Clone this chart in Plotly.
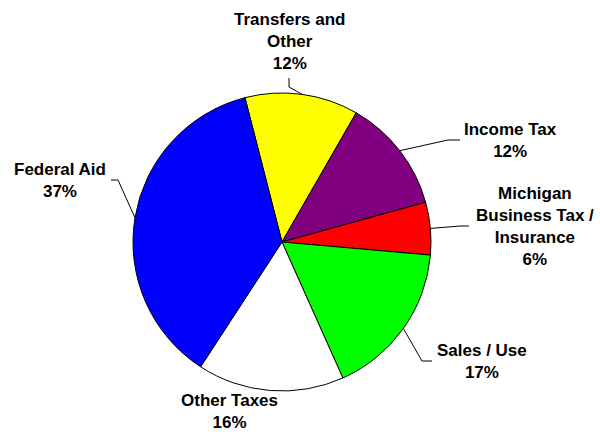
import math
import plotly.graph_objects as go

# ---- data ----
labels = ["Transfers and<br>Other", "Income Tax", "Michigan<br>Business Tax /<br>Insurance",
          "Sales / Use", "Other Taxes", "Federal Aid"]
values = [12.3, 12.4, 5.7, 16.9, 15.9, 36.8]
colors = ["#FFFF00", "#800080", "#FF0000", "#00FF00", "#FFFFFF", "#0000FF"]

W, H = 600, 432
CX, CY, R = 282, 242, 149
ROT = -14.4

# label placement (pixel coords: text centre, elbow point, end point)
label_pos = [(290, 41), (510, 140), (535, 226), (482, 361), (229, 411), (60, 180)]
elbows = [(289, 87), (448, 140), (460, 226), (422, 361), None, (118, 180)]
ends = [(289, 78), (460, 140), (469, 226), (432, 361), None, (111, 180)]

fig = go.Figure()
fig.add_trace(go.Pie(
    labels=labels, values=values, sort=False, direction="clockwise", rotation=ROT,
    marker=dict(colors=colors, line=dict(color="black", width=1)),
    textinfo="none", hoverinfo="label+percent", showlegend=False,
    domain=dict(x=[(CX - R) / W, (CX + R) / W], y=[(H - CY - R) / H, (H - CY + R) / H]),
))

total = sum(values)
cum = 0
font = dict(family="Arial, Liberation Sans, sans-serif", size=17, color="black", weight="bold")
for i, (lab, v) in enumerate(zip(labels, values)):
    mid = ROT + (cum + v / 2) / total * 360
    cum += v
    pct = round(v / total * 100)
    tx, ty = label_pos[i]
    fig.add_annotation(x=tx / W, y=1 - ty / H, xref="paper", yref="paper",
                       text=f"{lab}<br>{pct}%", showarrow=False, font=font,
                       xanchor="center", yanchor="middle", align="center")
    if elbows[i] is not None:
        a = math.radians(mid)
        sx, sy = CX + R * math.sin(a), CY - R * math.cos(a)
        ex, ey = elbows[i]
        fx, fy = ends[i]
        path = (f"M {sx/W},{1-sy/H} L {ex/W},{1-ey/H} L {fx/W},{1-fy/H}")
        fig.add_shape(type="path", xref="paper", yref="paper", path=path,
                      line=dict(color="black", width=1))

fig.update_layout(width=W, height=H, margin=dict(l=0, r=0, t=0, b=0),
                  paper_bgcolor="white", plot_bgcolor="white")
fig.write_html("out.html", config={"displayModeBar": False},
               post_script="document.body.style.margin='0';document.body.style.overflow='hidden';")
